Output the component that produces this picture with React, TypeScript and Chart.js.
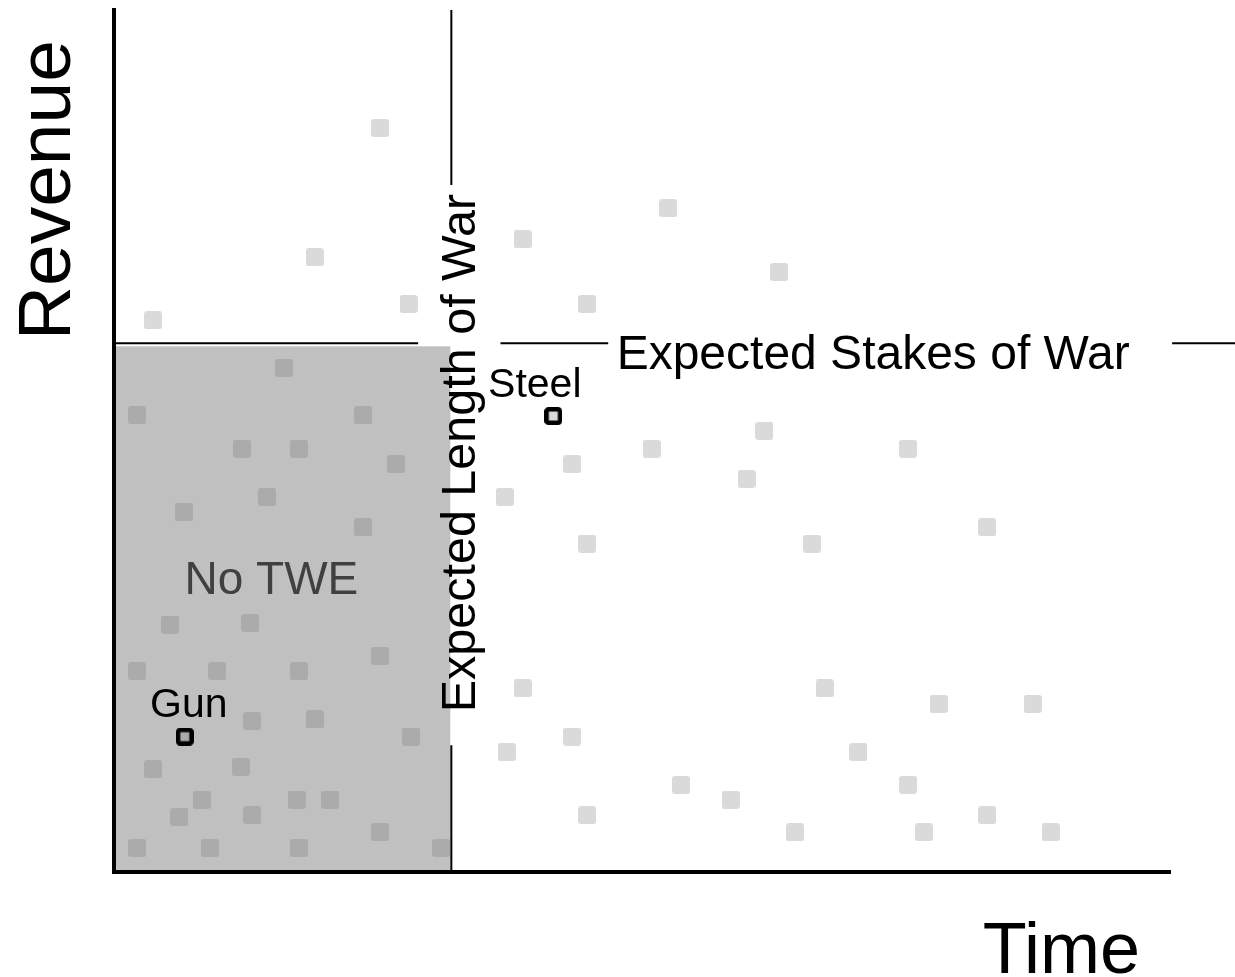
import { useEffect, useRef } from "react";
import { Chart, registerables } from "chart.js";

Chart.register(...registerables);

// Industries (x = time, y = revenue), arbitrary 0–100 units
const industryX = [
  25.2, 19.0, 27.9, 3.7, 52.5, 38.7, 63.0, 44.8, 50.9, 61.6, 75.2, 43.4, 59.9, 37.0, 82.7, 44.8,
  66.1, 38.7, 67.3, 78.1, 87.0, 43.4, 37.2, 70.5, 53.7, 58.4, 75.2, 44.8, 64.5, 76.7, 82.7, 88.7,
  16.1, 2.2, 23.6, 12.1, 17.5, 26.7, 14.5, 6.6, 23.6, 5.3, 12.9, 2.2, 9.8, 17.5, 25.2, 13.1,
  19.0, 28.1, 3.7, 12.0, 8.3, 17.3, 20.5, 6.2, 13.1, 25.2, 2.2, 9.1, 17.5, 31.0,
];
const industryY = [
  86.3, 71.3, 65.9, 64.0, 77.0, 73.4, 69.6, 65.9, 49.1, 51.2, 49.1, 47.3, 45.6, 43.5, 40.0, 38.1,
  38.1, 21.3, 21.3, 19.5, 19.5, 15.7, 13.9, 13.9, 10.1, 8.4, 10.1, 6.6, 4.6, 4.6, 6.6, 4.6,
  58.5, 53.0, 53.0, 49.1, 49.1, 47.3, 43.5, 41.8, 40.0, 28.7, 28.9, 23.3, 23.3, 23.3, 25.1, 17.5,
  17.7, 15.7, 11.9, 12.2, 8.4, 8.4, 8.4, 6.4, 6.6, 4.6, 2.8, 2.8, 2.8, 2.8,
];

const namedIndustries = ["Gun", "Steel"];
const namedX = [6.7, 41.6];
const namedY = [15.7, 52.9];

const expectedLength = 31.85;
const expectedStakes = 61.1;

const xTitle = "Time";
const yTitle = "Revenue";
const regionLabel = "No TWE";
const lengthLabel = "Expected Length of War";
const stakesLabel = "Expected Stakes of War";

// line segments (in data units) leaving gaps for the labels
const stakesSegments = [
  [0, 28.8],
  [36.6, 46.8],
  [100.2, 106.2],
];
const lengthSegments = [
  [0, 14.7],
  [79.7, 100],
];

const FONT = "'Liberation Sans', Arial, sans-serif";

function makeSquare(stroke: boolean): HTMLCanvasElement {
  const c = document.createElement("canvas");
  const s = 18;
  c.width = s;
  c.height = s;
  const g = c.getContext("2d")!;
  g.fillStyle = "rgba(109,109,109,0.25)";
  if (stroke) {
    g.beginPath();
    (g as any).roundRect(2.25, 2.25, s - 4.5, s - 4.5, 2);
    g.fill();
    g.lineWidth = 4.5;
    g.strokeStyle = "#000";
    g.stroke();
  } else {
    g.beginPath();
    (g as any).roundRect(0, 0, s, s, 3);
    g.fill();
  }
  return c;
}

const overlayPlugin = {
  id: "overlay",
  beforeDatasetsDraw(chart: any) {
    const { ctx, scales } = chart;
    const x = scales.x;
    const y = scales.y;
    const x0 = x.getPixelForValue(0);
    const x1 = x.getPixelForValue(expectedLength);
    const y0 = y.getPixelForValue(0);
    const y1 = y.getPixelForValue(expectedStakes);
    ctx.save();
    ctx.fillStyle = "#c0c0c0";
    ctx.fillRect(x0, y1 + 1, x1 - x0, y0 - y1 - 1);
    ctx.restore();
  },
  afterDatasetsDraw(chart: any) {
    const { ctx, scales, chartArea } = chart;
    const x = scales.x;
    const y = scales.y;
    ctx.save();
    ctx.strokeStyle = "#000";
    ctx.lineWidth = 2;
    const ly = y.getPixelForValue(expectedStakes) - 2;
    stakesSegments.forEach(([a, b]) => {
      ctx.beginPath();
      ctx.moveTo(x.getPixelForValue(a), ly);
      ctx.lineTo(x.getPixelForValue(b), ly);
      ctx.stroke();
    });
    const lx = x.getPixelForValue(expectedLength) + 1;
    lengthSegments.forEach(([a, b]) => {
      ctx.beginPath();
      ctx.moveTo(lx, y.getPixelForValue(a));
      ctx.lineTo(lx, y.getPixelForValue(b));
      ctx.stroke();
    });

    ctx.fillStyle = "#000";
    // Expected Stakes of War
    ctx.font = `48px ${FONT}`;
    ctx.textAlign = "left";
    ctx.textBaseline = "alphabetic";
    ctx.fillText(stakesLabel, x.getPixelForValue(47.6), ly + 26);

    // Expected Length of War (rotated)
    ctx.save();
    ctx.font = `48.5px ${FONT}`;
    ctx.translate(lx + 24, y.getPixelForValue(48.6));
    ctx.rotate(-Math.PI / 2);
    ctx.textAlign = "center";
    ctx.fillText(lengthLabel, 0, 0);
    ctx.restore();

    // No TWE
    ctx.fillStyle = "#404040";
    ctx.font = `46px ${FONT}`;
    ctx.textAlign = "center";
    ctx.fillText(regionLabel, x.getPixelForValue(14.9), y.getPixelForValue(32.3));

    // point labels
    ctx.fillStyle = "#000";
    ctx.font = `41px ${FONT}`;
    const offsets = [
      [4, -20],
      [-18.5, -19],
    ];
    namedIndustries.forEach((name, i) => {
      const px = x.getPixelForValue(namedX[i]);
      const py = y.getPixelForValue(namedY[i]);
      ctx.fillText(name, px + offsets[i][0], py + offsets[i][1]);
    });

    // axis titles
    ctx.font = `72px ${FONT}`;
    ctx.textAlign = "right";
    ctx.fillText(xTitle, chartArea.right - 30, chartArea.bottom + 101);
    ctx.save();
    ctx.font = `75px ${FONT}`;
    ctx.translate(chartArea.left - 44, chartArea.top + 30);
    ctx.rotate(-Math.PI / 2);
    ctx.textAlign = "right";
    ctx.fillText(yTitle, 0, 0);
    ctx.restore();
    ctx.restore();
  },
};

export default function App() {
  const ref = useRef<HTMLCanvasElement>(null);
  useEffect(() => {
    if (!ref.current) return;
    const plain = makeSquare(false);
    const marked = makeSquare(true);
    const chart = new Chart(ref.current, {
      type: "scatter",
      data: {
        datasets: [
          {
            label: "Industries",
            data: industryX.map((v, i) => ({ x: v, y: industryY[i] })),
            pointStyle: plain as any,
            pointRadius: 9,
          },
          {
            label: "Named",
            data: namedX.map((v, i) => ({ x: v, y: namedY[i] })),
            pointStyle: marked as any,
            pointRadius: 9,
          },
        ],
      },
      options: {
        animation: false,
        responsive: false,
        events: [],
        layout: { padding: { left: 114, right: 65, top: 10, bottom: 105 } },
        plugins: { legend: { display: false }, tooltip: { enabled: false } },
        scales: {
          x: {
            type: "linear",
            min: 0,
            max: 100,
            ticks: { display: false },
            grid: { display: false, drawTicks: false },
            border: { display: true, width: 4, color: "#000", z: 1 },
          },
          y: {
            type: "linear",
            min: 0,
            max: 100,
            ticks: { display: false },
            grid: { display: false, drawTicks: false },
            border: { display: true, width: 4, color: "#000", z: 1 },
          },
        },
      },
      plugins: [overlayPlugin],
    });
    return () => chart.destroy();
  }, []);
  return (
    <div style={{ position: "absolute", left: 0, top: 0, width: 1235, height: 977 }}>
      <canvas ref={ref} width={1235} height={977} style={{ display: "block" }} />
    </div>
  );
}
